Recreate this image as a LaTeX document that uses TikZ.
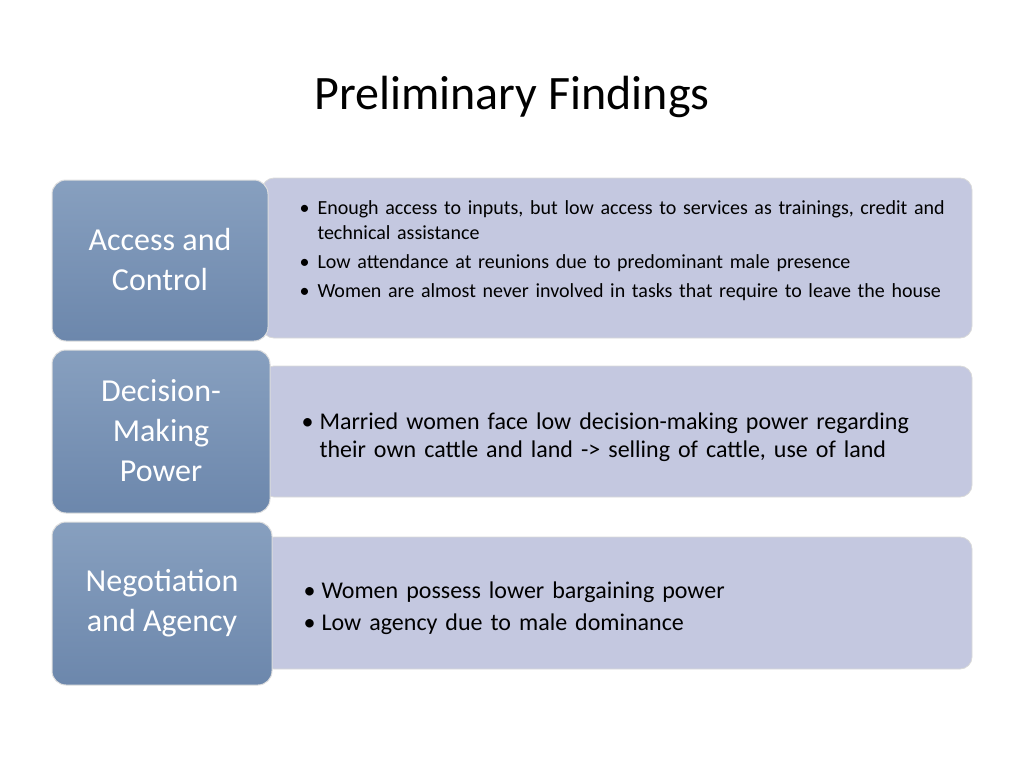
\documentclass[tikz,border=0pt]{standalone}
\usepackage{fontspec}
\setmainfont{Carlito}
\newcommand{\bul}[1]{\par\hangindent=18pt\hangafter=1\noindent\makebox[18pt][l]{\textbullet}#1\par}
\begin{document}
\begin{tikzpicture}[x=1pt,y=-1pt,
 rbox/.style={draw=white!70!gray,line width=0.8pt,rounded corners=12pt,fill={rgb,255:red,196;green,200;blue,224}},
 ltext/.style={text=white,font=\fontsize{32}{40}\selectfont,align=center},
 rtext/.style={anchor=west,align=left,text width=660pt}]
\definecolor{lb}{RGB}{122,149,184}
\definecolor{lbd}{RGB}{108,135,172}
\tikzset{lbox/.style={draw=white!75!gray,line width=1pt,rounded corners=14pt,top color=lb!90!white,bottom color=lbd}}
\useasboundingbox (0,0) rectangle (1024,768);
\node (title) at (512,97) {\fontsize{48}{56}\selectfont Preliminary Findings};
\path[rbox] (262,178) rectangle (972,338);
\path[rbox] (262,366) rectangle (972,497);
\path[rbox] (262,537) rectangle (972,669);
\path[lbox] (52,180) rectangle (268,341);
\path[lbox] (52,350) rectangle (270,513);
\path[lbox] (52,522) rectangle (272,685);
\node[ltext] (l1) at (160,260) {Access and\\Control};
\node[ltext] (l2) at (161,431) {Decision-\\Making\\Power};
\node[ltext] (l3) at (162,603) {Negotiation\\and Agency};
\node[rtext,font=\fontsize{20}{25}\selectfont] (r1) at (296,245) {%
\bul{Enough access to inputs, but low access to services as trainings, credit and technical assistance}\vspace{4pt}
\bul{Low attendance at reunions due to predominant male presence}\vspace{4pt}
\bul{Women are almost never involved in tasks that require to leave the house}};
\node[rtext,font=\fontsize{24}{28}\selectfont] (r2) at (298,432) {%
\bul{Married women face low decision-making power regarding their own cattle and land -> selling of cattle, use of land}};
\node[rtext,font=\fontsize{24}{28}\selectfont] (r3) at (300,603) {%
\bul{Women possess lower bargaining power}\vspace{4pt}
\bul{Low agency due to male dominance}};
\end{tikzpicture}
\end{document}
